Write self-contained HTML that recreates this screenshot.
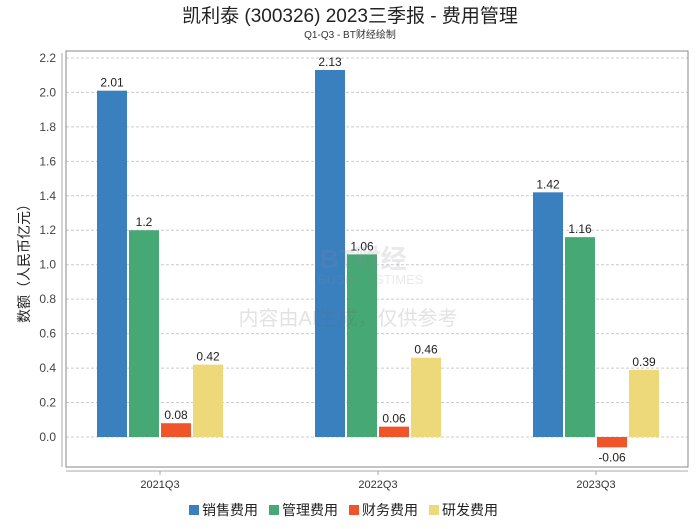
<!DOCTYPE html>
<html><head><meta charset="utf-8"><style>
body{margin:0;background:#fff;width:700px;height:524px;overflow:hidden;font-family:"Liberation Sans","Noto Sans CJK SC",sans-serif}
</style></head><body>
<svg id="chart" width="700" height="524" xmlns="http://www.w3.org/2000/svg" font-family="Liberation Sans, Noto Sans CJK SC, sans-serif">
<text x="350" y="22" text-anchor="middle" font-size="19" fill="#222">凯利泰 (300326) 2023三季报 - 费用管理</text>
<text x="350" y="38" text-anchor="middle" font-size="10" fill="#333">Q1-Q3 - BT财经绘制</text>
<g id="grid"></g>
<rect x="66" y="51" width="622" height="416" fill="none" stroke="#888" stroke-width="1"/>
<line x1="62" y1="53" x2="62" y2="467" stroke="#aaa"/>
<line x1="66" y1="471" x2="688" y2="471" stroke="#aaa"/>
<text transform="translate(29,260) rotate(-90)" text-anchor="middle" font-size="14" fill="#222">数额（人民币亿元）</text>
<g id="bars"></g>
<g opacity="0.18">
<text x="320" y="268" font-size="26" font-weight="bold" fill="#889">BT财经</text>
<text x="318" y="284" font-size="13" fill="#889">BUSINESSTIMES</text>
<text x="348" y="325" text-anchor="middle" font-size="20" fill="#666">内容由AI生成，仅供参考</text>
</g>
<g id="legend"></g>
</svg>
<script>
const categories = ["2021Q3","2022Q3","2023Q3"];
const seriesNames = ["销售费用","管理费用","财务费用","研发费用"];
const sales = [2.01, 2.13, 1.42];
const admin = [1.2, 1.06, 1.16];
const finance = [0.08, 0.06, -0.06];
const rnd = [0.42, 0.46, 0.39];
const yTicks = [0.0,0.2,0.4,0.6,0.8,1.0,1.2,1.4,1.6,1.8,2.0,2.2];
const colors = ["#3a80bf","#46a874","#ef5528","#edd87a"];
const series = [sales, admin, finance, rnd];
const NS = "http://www.w3.org/2000/svg";
const y = v => 437 - v * 172.3;
const xc = i => 160 + i * 218;
function mk(tag, attrs, parent){const e=document.createElementNS(NS,tag);for(const k in attrs)e.setAttribute(k,attrs[k]);parent.appendChild(e);return e;}
const grid = document.getElementById('grid');
yTicks.forEach(t=>{
  const l=mk('line',{x1:66,x2:688,y1:y(t),y2:y(t),stroke:'#ccc','stroke-dasharray':'3,2'},grid);
  
  
  const tx=mk('text',{x:56,y:y(t)+4,'text-anchor':'end','font-size':12,fill:'#444'},grid);
  tx.textContent=t.toFixed(1);
  
  
});
const bars=document.getElementById('bars');
categories.forEach((c,i)=>{
  const tk=mk('line',{x1:xc(i),x2:xc(i),y1:471,y2:475,stroke:'#aaa'},bars);
  
  
  const lb=mk('text',{x:xc(i),y:488,'text-anchor':'middle','font-size':11,fill:'#333'},bars);
  lb.textContent=c;
  
  
  series.forEach((s,j)=>{
    const v=s[i];
    const x0=xc(i)-63+j*32;
    const top=Math.min(y(v),y(0)), h=Math.abs(y(v)-y(0));
    const r=mk('rect',{x:x0,y:top,width:30,height:h,fill:colors[j]},bars);
    
    
    const t=mk('text',{x:x0+15,y:v>=0?y(v)-4:y(v)+14,'text-anchor':'middle','font-size':12,fill:'#222'},bars);
    t.textContent=String(v);
    
    
  });
});
const lg=document.getElementById('legend');
seriesNames.forEach((n,j)=>{
  const x0=189+j*80;
  const r=mk('rect',{x:x0,y:505,width:10,height:10,fill:colors[j]},lg);
  
  
  const t=mk('text',{x:x0+13,y:515,'font-size':14,fill:'#222'},lg);
  t.textContent=n;
  
  
});
</script>
</body></html>
